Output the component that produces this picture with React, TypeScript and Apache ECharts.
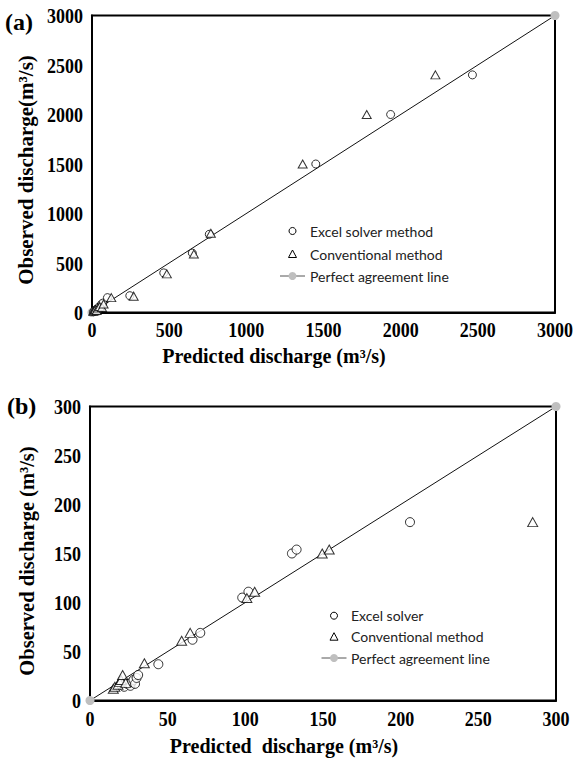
import React, { useEffect, useRef } from "react";
import * as echarts from "echarts";

// Panel (a)
const excelA: number[][] = [
  [10, 8], [18, 20], [25, 15], [30, 35], [40, 25], [45, 55], [55, 45], [60, 80], [70, 95],
  [100, 150], [245, 170], [465, 400], [650, 600], [760, 790], [1450, 1500], [1935, 2000], [2465, 2400],
];
const convA: number[][] = [
  [8, 12], [15, 18], [22, 30], [30, 20], [38, 45], [50, 60], [65, 50], [75, 85],
  [125, 150], [270, 165], [485, 390], [660, 590], [770, 800], [1365, 1500], [1780, 2000], [2225, 2400],
];
const perfectA: number[][] = [[0, 0], [3000, 3000]];
const ticksA: number[] = [0, 500, 1000, 1500, 2000, 2500, 3000];
const legendA: string[] = ["Excel solver method", "Conventional method", "Perfect agreement line"];

// Panel (b)
const excelB: number[][] = [
  [22, 14], [24, 17], [26, 15], [27, 19], [28, 21], [29, 17], [30, 23], [31, 26],
  [44, 37], [66, 62], [71, 69], [98, 105], [102, 111], [130, 150], [133, 154], [206, 182],
];
const convB: number[][] = [
  [15, 12], [16, 14], [18, 16], [19, 19], [20, 21], [21, 26], [23, 18], [35, 38],
  [59, 61], [64.5, 69], [101, 104.5], [106, 111], [149.5, 150], [154, 154], [285, 182],
];
const perfectB: number[][] = [[0, 0], [300, 300]];
const ticksB: number[] = [0, 50, 100, 150, 200, 250, 300];
const legendB: string[] = ["Excel solver", "Conventional method", "Perfect agreement line"];

const SERIF = "Liberation Serif";
const SANS = "Lato";

function axis(gridIndex: number, ticks: number[]) {
  return {
    gridIndex,
    type: "value",
    min: ticks[0],
    max: ticks[ticks.length - 1],
    interval: ticks[1] - ticks[0],
    axisLine: { show: true, onZero: false, lineStyle: { color: "#000", width: 2 } },
    axisTick: { show: false },
    splitLine: { show: false },
    axisLabel: { show: false },
  };
}

const scatterStyle = {
  color: "#fff",
  borderColor: "#000",
  borderWidth: 1,
};

function legendGraphics(names: string[], mx: number, tx: number, rows: number[]) {
  const txt = (text: string, y: number) => ({
    type: "text",
    x: tx,
    y,
    style: { text, fill: "#222", font: `14px ${SANS}`, verticalAlign: "middle", align: "left" },
  });
  return [
    { type: "circle", shape: { cx: mx, cy: rows[0], r: 3.5 }, style: { fill: "#fff", stroke: "#000", lineWidth: 1 } },
    txt(names[0], rows[0]),
    {
      type: "polygon",
      shape: { points: [[mx, rows[1] - 4], [mx - 4, rows[1] + 3.5], [mx + 4, rows[1] + 3.5]] },
      style: { fill: "#fff", stroke: "#000", lineWidth: 1 },
    },
    txt(names[1], rows[1]),
    { type: "line", shape: { x1: mx - 12.5, y1: rows[2], x2: mx + 12.5, y2: rows[2] }, style: { stroke: "#555", lineWidth: 1 } },
    { type: "circle", shape: { cx: mx, cy: rows[2], r: 4 }, style: { fill: "#bfbfbf" } },
    txt(names[2], rows[2]),
  ];
}

export default function App() {
  const ref = useRef<HTMLDivElement>(null);
  useEffect(() => {
    document.body.style.margin = "0";
    const chart = echarts.init(ref.current!, null, { renderer: "svg" });
    const lineSeries = (name: string, data: number[][], idx: number) => ({
      name,
      type: "line",
      xAxisIndex: idx,
      yAxisIndex: idx,
      data,
      symbol: "circle",
      symbolSize: 9,
      clip: false,
      itemStyle: { color: "#bfbfbf" },
      lineStyle: { color: "#111", width: 1 },
      z: 1,
    });
    const scatter = (name: string, data: number[][], idx: number, symbol: string, size: any) => ({
      name,
      type: "scatter",
      xAxisIndex: idx,
      yAxisIndex: idx,
      data,
      symbol,
      symbolSize: size,
      itemStyle: scatterStyle,
      z: 3,
    });
    const nameText = (text: string, x: number, y: number, rotation = 0, size = 20) => ({
      type: "text",
      x,
      y,
      rotation,
      style: {
        text,
        fill: "#000",
        font: `bold ${size}px ${SERIF}`,
        align: "center",
        verticalAlign: "middle",
      },
    });
    chart.setOption({
      animation: false,
      backgroundColor: "#fff",
      textStyle: { fontFamily: SERIF },
      grid: [
        { left: 92, right: 25, top: 15.5, height: 297, show: true, borderColor: "#000", borderWidth: 2 },
        { left: 90, right: 24, top: 406.5, height: 294, show: true, borderColor: "#000", borderWidth: 2 },
      ],
      xAxis: [axis(0, ticksA), axis(1, ticksB)],
      yAxis: [axis(0, ticksA), axis(1, ticksB)],
      series: [
        lineSeries("Perfect agreement line", perfectA, 0),
        scatter("Excel solver method", excelA, 0, "circle", 8),
        scatter("Conventional method", convA, 0, "triangle", [9, 8]),
        lineSeries("Perfect agreement line (b)", perfectB, 1),
        scatter("Excel solver", excelB, 1, "circle", 9),
        scatter("Conventional method (b)", convB, 1, "triangle", [10, 9]),
      ],
    });

    // tick labels placed through the library's own scales
    const tickLabel = (text: string, x: number, y: number, align: string) => ({
      type: "text",
      x,
      y,
      scaleY: 1.2,
      style: {
        text,
        fill: "#000",
        font: `bold 18px ${SERIF}`,
        align,
        verticalAlign: "middle",
      },
    });
    const tickGraphics: any[] = [];
    const addTicks = (gridIndex: number, ticks: number[], xOff: number, yOff: number) => {
      ticks.forEach((t) => {
        const px = chart.convertToPixel({ gridIndex } as any, [t, ticks[0]]) as number[];
        tickGraphics.push(tickLabel(String(t), px[0], px[1] + yOff, "center"));
        const py = chart.convertToPixel({ gridIndex } as any, [ticks[0], t]) as number[];
        tickGraphics.push(tickLabel(String(t), py[0] - xOff, py[1], "right"));
      });
    };
    addTicks(0, ticksA, 9, 17);
    addTicks(1, ticksB, 9, 18);

    chart.setOption({
      graphic: [
        { type: "text", x: 5, y: 10, style: { text: "(a)", fill: "#000", font: `bold 24px ${SERIF}` } },
        { type: "text", x: 7, y: 394, style: { text: "(b)", fill: "#000", font: `bold 24px ${SERIF}` } },
        nameText("Observed discharge(m³/s)", 26, 170, Math.PI / 2, 21),
        nameText("Predicted discharge (m³/s)", 274, 356, 0, 20),
        nameText("Observed discharge (m³/s)", 27, 561, Math.PI / 2, 20.5),
        nameText("Predicted  discharge (m³/s)", 284, 746, 0, 20),
        ...legendGraphics(legendA, 292.5, 310, [231, 254, 276]),
        ...legendGraphics(legendB, 334, 351, [615.7, 636.7, 658]),
        ...tickGraphics,
      ],
    });
    return () => chart.dispose();
  }, []);
  return <div ref={ref} style={{ width: 580, height: 759 }} />;
}
